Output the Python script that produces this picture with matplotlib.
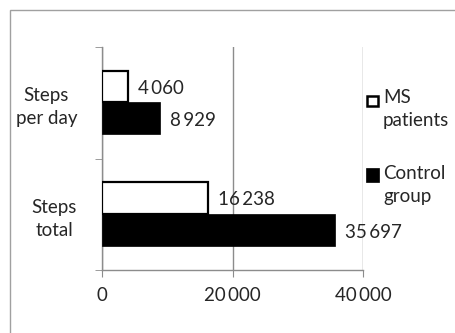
import matplotlib.pyplot as plt
from matplotlib.patches import Rectangle

plt.rcParams['font.family'] = ['Lato', 'DejaVu Sans']

categorias = ['Steps\ntotal', 'Steps\nper day']
ms_patients = [16238, 4060]
control_group = [35697, 8929]
etiquetas_x = ['0', '20\u2009000', '40\u2009000']
valores_x = [0, 20000, 40000]
series = ['MS\npatients', 'Control\ngroup']

gris = '#8c8c8c'
texto = '#262626'
fs = 13.5
ls = 1.43

fig = plt.figure(figsize=(4.55, 3.33), dpi=100)
fig.patch.set_facecolor('white')

# marco del grafico (solo se ven los bordes izquierdo y superior)
fig.add_artist(Rectangle((10 / 455, -0.1), 1.2, 1 - 10 / 333 + 0.1,
                         transform=fig.transFigure, fill=False,
                         edgecolor='#a0a0a0', linewidth=1.0))

ax = fig.add_axes([102 / 455, 1 - 270 / 333, 261 / 455, 223 / 333])

h = 0.285
pos = list(range(len(categorias)))
ax.barh([p + 0.145 for p in pos], ms_patients, height=h, color='white',
        edgecolor='black', linewidth=1.6, zorder=3)
ax.barh([p - 0.14 for p in pos], control_group, height=h, color='black',
        edgecolor='black', linewidth=0.5, zorder=3)


def fmt(v):
    return f'{v:,}'.replace(',', '\u2009')


for p, v in zip(pos, ms_patients):
    ax.annotate(fmt(v), (v, p + 0.13), xytext=(7, 0),
                textcoords='offset points', va='center', ha='left',
                fontsize=fs, color=texto, zorder=4)
for p, v in zip(pos, control_group):
    ax.annotate(fmt(v), (v, p - 0.16), xytext=(7, 0),
                textcoords='offset points', va='center', ha='left',
                fontsize=fs, color=texto, zorder=4)

ax.set_xlim(0, 40000)
ax.set_ylim(-0.5, 1.5)

ax.set_xticks(valores_x)
ax.set_xticklabels(etiquetas_x, fontsize=fs, color=texto)
ax.tick_params(axis='x', direction='out', length=5, color=gris, pad=7)

ax.set_yticks(pos)
ax.set_yticklabels(categorias, fontsize=fs, color=texto)
for lbl in ax.get_yticklabels():
    lbl.set_multialignment('center')
    lbl.set_linespacing(ls)
ax.tick_params(axis='y', which='major', length=0, pad=18)
ax.set_yticks([-0.5, 0.5, 1.5], minor=True)
ax.tick_params(axis='y', which='minor', direction='out', length=5, color=gris)

ax.grid(axis='x', color=gris, linewidth=1.0, zorder=0)
for s in ['top', 'right']:
    ax.spines[s].set_visible(False)
for s in ['left', 'bottom']:
    ax.spines[s].set_color(gris)
    ax.spines[s].set_linewidth(1.0)

# leyenda dibujada a mano (marcador alineado con la primera linea)
fig.add_artist(Rectangle((367 / 455, 1 - 106 / 333), 11 / 455, 10 / 333,
                         transform=fig.transFigure, facecolor='white',
                         edgecolor='black', linewidth=1.8))
fig.add_artist(Rectangle((366 / 455, 1 - 182 / 333), 13 / 455, 14 / 333,
                         transform=fig.transFigure, facecolor='black',
                         edgecolor='black', linewidth=0.5))
fig.text(383 / 455, 1 - 89 / 333, series[0], fontsize=fs, color=texto,
         va='top', ha='left', linespacing=ls)
fig.text(383 / 455, 1 - 165 / 333, series[1], fontsize=fs, color=texto,
         va='top', ha='left', linespacing=ls)

fig.savefig('out.png', dpi=100)
